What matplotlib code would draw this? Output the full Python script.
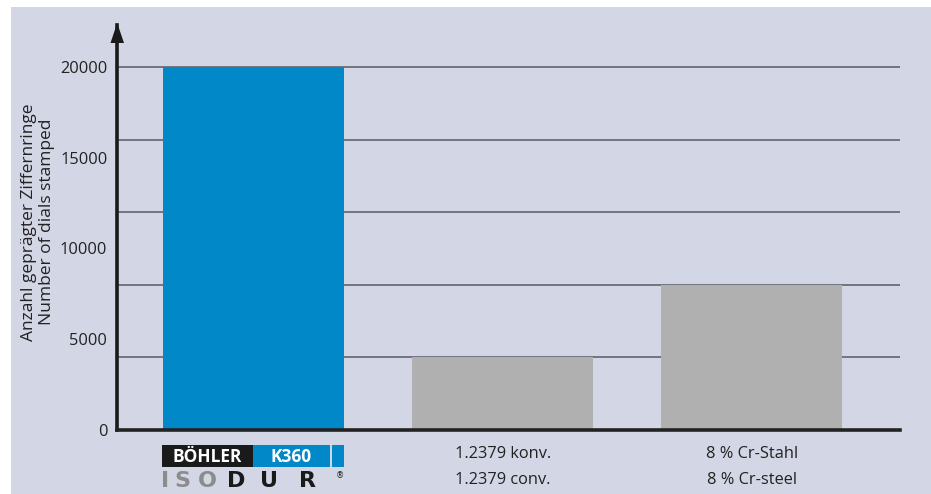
import matplotlib
matplotlib.use("Agg")
import matplotlib.pyplot as plt
from matplotlib.patches import Rectangle
import numpy as np

plt.rcParams['font.family'] = ['Open Sans', 'DejaVu Sans']

categories = ["BÖHLER K360 ISODUR", "1.2379 konv.\n1.2379 conv.", "8 % Cr-Stahl\n8 % Cr-steel"]
values = [20000, 4000, 8000]
bar_colors = ["#0088c9", "#b0b0b0", "#b0b0b0"]
ytick_values = [0, 5000, 10000, 15000, 20000]
grid_values = [4000, 8000, 12000, 16000, 20000]
ylabel = "Anzahl geprägter Ziffernringe\nNumber of dials stamped"

W, H = 931, 494
fig = plt.figure(figsize=(W / 100, H / 100), dpi=100, facecolor="white")
bg = "#d3d6e5"

def fx(px):
    return px / W

def fy(py):
    return (H - py) / H

# background panel
fig.patches.append(Rectangle((fx(11), 0), 1 - fx(11), fy(7), transform=fig.transFigure,
                             facecolor=bg, edgecolor="none", zorder=-10))

ax_l, ax_r, ax_b, ax_t = 117, 900, 430, 25
ax = fig.add_axes([fx(ax_l), fy(ax_b), fx(ax_r - ax_l), (ax_b - ax_t) / H])
ax.set_facecolor("none")
ax.set_zorder(1)

x = np.arange(len(categories))
ax.set_xlim(-0.5476, 2.594)
ax.set_ylim(0, 22314)

for g in grid_values:
    ax.axhline(g, color="#72757f", lw=1.4, zorder=1)

ax.bar(x, values, width=0.726, color=bar_colors, zorder=2)

for s in ["top", "right"]:
    ax.spines[s].set_visible(False)
ax.spines["left"].set_linewidth(2.6)
ax.spines["left"].set_color("#1a1a1a")
ax.spines["bottom"].set_linewidth(2.6)
ax.spines["bottom"].set_color("#222222")
ax.spines["left"].set_zorder(5)
ax.spines["bottom"].set_zorder(5)

# arrow head on y axis
fig.patches.append(plt.Polygon([[fx(110.5), fy(43)], [fx(124), fy(43)], [fx(117.2), fy(23)]],
                               closed=True, transform=fig.transFigure, facecolor="#1a1a1a",
                               edgecolor="none", zorder=6))

ax.set_yticks(ytick_values)
ax.set_yticklabels([str(v) for v in ytick_values], fontsize=11.8, color="#222222")
ax.tick_params(axis="y", length=0, pad=7)

ax.set_xticks(x)
ax.set_xticklabels([""] + categories[1:], fontsize=11.8, color="#222222", linespacing=1.85)
ax.tick_params(axis="x", length=0, pad=11.5)

fig.text(fx(38), fy(222), ylabel, rotation=90, ha="center", va="center",
         fontsize=12.5, color="#222222", linespacing=1.1)

# logo for first category
fig.patches.append(Rectangle((fx(162), fy(467)), fx(91), 22 / H, transform=fig.transFigure,
                             facecolor="#1a1a1a", edgecolor="none", zorder=3))
fig.patches.append(Rectangle((fx(253), fy(467)), fx(77), 22 / H, transform=fig.transFigure,
                             facecolor="#0088c9", edgecolor="none", zorder=3))
fig.patches.append(Rectangle((fx(331.5), fy(467)), fx(12.5), 22 / H, transform=fig.transFigure,
                             facecolor="#0088c9", edgecolor="none", zorder=3))
fig.text(fx(207.5), fy(456.5), "BÖHLER", ha="center", va="center", fontsize=12.5,
         fontweight="bold", color="white")
fig.text(fx(291.5), fy(456.5), "K360", ha="center", va="center", fontsize=12.5,
         fontweight="bold", color="white")
iso_letters = [("I", 165, "#8c8c8c"), ("S", 182.5, "#8c8c8c"), ("O", 207, "#8c8c8c"),
               ("D", 236, "#1a1a1a"), ("U", 269.5, "#1a1a1a"), ("R", 307.5, "#1a1a1a")]
for ch, cx, col in iso_letters:
    fig.text(fx(cx), fy(481), ch, ha="center", va="center", fontsize=16,
             fontweight="bold" if col != "#1a1a1a" else "heavy", color=col,
             family=["DejaVu Sans"])
fig.text(fx(336), fy(476), "®", ha="left", va="center", fontsize=6, color="#1a1a1a",
         family=["DejaVu Sans"])

fig.savefig("out.png", dpi=100, facecolor="white")
